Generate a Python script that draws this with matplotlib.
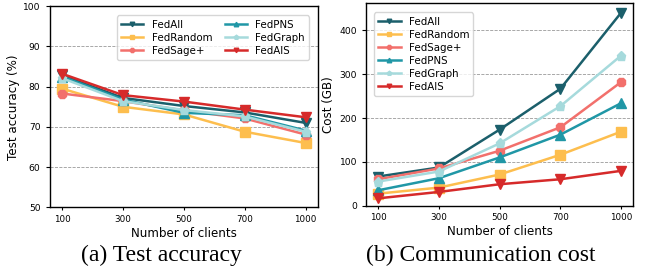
import numpy as np
import matplotlib.pyplot as plt

# 数据
clients = ['100', '300', '500', '700', '1000']
methods = ['FedAll', 'FedRandom', 'FedSage+', 'FedPNS', 'FedGraph', 'FedAIS']
colors = ['#1b5f6b', '#fdbe4e', '#f2706c', '#2097a6', '#a6dadc', '#d62a2a']
markers = ['v', 's', '8', '^', 'p', 'v']

acc_fedall = [82.8, 77.2, 75.2, 73.6, 71.0]
acc_fedrandom = [79.5, 75.0, 73.1, 68.8, 66.0]
acc_fedsage = [78.3, 76.4, 74.1, 72.1, 68.1]
acc_fedpns = [82.5, 76.8, 73.5, 72.9, 69.1]
acc_fedgraph = [82.1, 76.4, 74.2, 72.6, 68.8]
acc_fedais = [83.2, 77.9, 76.3, 74.3, 72.4]

cost_fedall = [66.6, 87.2, 173.7, 267.0, 440.7]
cost_fedrandom = [27.5, 41.3, 71.2, 116.3, 169.1]
cost_fedsage = [60.4, 85.0, 125.5, 179.0, 282.3]
cost_fedpns = [35.2, 62.7, 110.2, 162.2, 234.1]
cost_fedgraph = [55.1, 78.0, 142.3, 227.2, 342.8]
cost_fedais = [16.8, 31.4, 49.0, 60.4, 79.6]

acc = [acc_fedall, acc_fedrandom, acc_fedsage, acc_fedpns, acc_fedgraph, acc_fedais]
cost = [cost_fedall, cost_fedrandom, cost_fedsage, cost_fedpns, cost_fedgraph, cost_fedais]

x = np.arange(len(clients))

fig = plt.figure(figsize=(6.45, 2.72), dpi=100)
ax1 = fig.add_axes([49.5 / 645, 1 - 207.3 / 272, (318.3 - 49.5) / 645, (207.3 - 6.3) / 272])
ax2 = fig.add_axes([366 / 645, 1 - 205.7 / 272, (633.3 - 366) / 645, (205.7 - 3.3) / 272])

for ax, data in [(ax1, acc), (ax2, cost)]:
    for i, m in enumerate(methods):
        ax.plot(x, data[i], color=colors[i], marker=markers[i], markersize=6.5,
                linewidth=1.8, label=m, zorder=3)
    ax.set_xticks(x)
    ax.set_xticklabels(clients, fontsize=6.3)
    ax.tick_params(axis='y', labelsize=6.6, length=3, width=0.8)
    ax.tick_params(axis='x', length=2, width=0.8)
    ax.grid(axis='y', color='gray', linestyle='--', linewidth=0.6, alpha=0.8)
    ax.set_xlabel('Number of clients', fontsize=8.6, labelpad=2)
    for s in ax.spines.values():
        s.set_linewidth(1.0)

ax1.set_xlim(-0.21, 4.21)
ax1.set_ylim(50, 100)
ax1.set_yticks([50, 60, 70, 80, 90, 100])
ax1.set_ylabel('Test accuracy (%)', fontsize=8.6, labelpad=2)
ax1.legend(ncol=2, loc='upper right', fontsize=7.4, markerscale=0.5,
           handlelength=2.2, columnspacing=1.2, labelspacing=0.3,
           borderpad=0.4, handletextpad=0.8, fancybox=True,
           bbox_to_anchor=(0.985, 0.98))

ax2.set_xlim(-0.2, 4.2)
ax2.set_ylim(0, 462)
ax2.set_yticks([0, 100, 200, 300, 400])
ax2.set_ylabel('Cost (GB)', fontsize=8.6, labelpad=3)
ax2.legend(loc='upper left', fontsize=7.4, markerscale=0.5,
           handlelength=2.2, labelspacing=0.3, borderpad=0.4,
           handletextpad=0.8, fancybox=True, bbox_to_anchor=(0.01, 0.98))

# 子图标题
fig.text(161.5 / 645, 1 - 260.7 / 272, '(a) Test accuracy', ha='center',
         va='baseline', fontsize=17, family='Liberation Serif')
fig.text(481 / 645, 1 - 260.7 / 272, '(b) Communication cost', ha='center',
         va='baseline', fontsize=17, family='Liberation Serif')

plt.savefig('out.png', dpi=100)
